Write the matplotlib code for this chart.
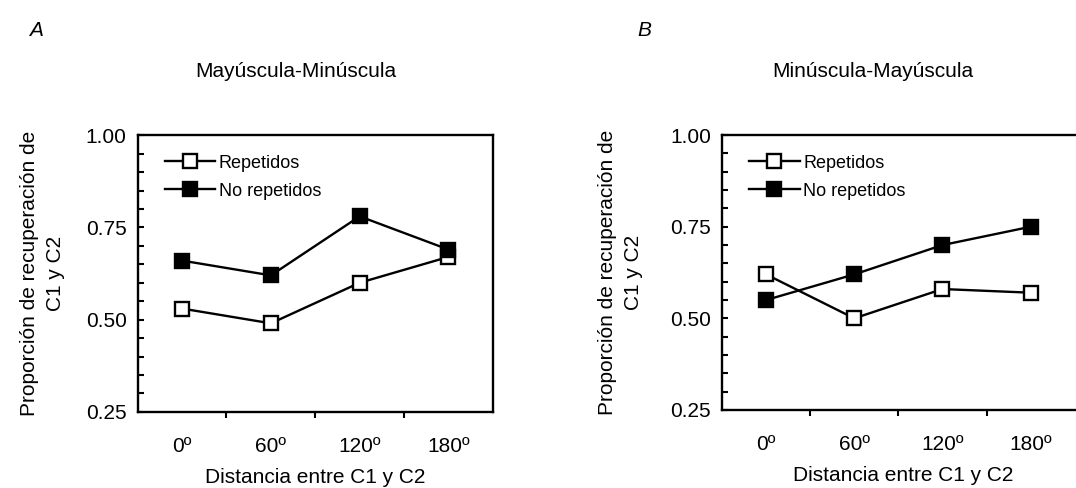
import matplotlib.pyplot as plt
from matplotlib.ticker import MultipleLocator
import numpy as np

plt.rcParams['font.family'] = ['Liberation Sans', 'DejaVu Sans']

# data
distances = ['0º', '60º', '120º', '180º']
rep_a = [0.53, 0.49, 0.60, 0.67]
norep_a = [0.66, 0.62, 0.78, 0.69]
rep_b = [0.62, 0.50, 0.58, 0.57]
norep_b = [0.55, 0.62, 0.70, 0.75]

fig = plt.figure(figsize=(10.76, 4.88), dpi=100)

ax_a = fig.add_axes([0.128, 0.156, 0.330, 0.567])
ax_b = fig.add_axes([0.671, 0.160, 0.336, 0.563])

panels = [
    (ax_a, rep_a, norep_a, 'Mayúscula-Minúscula', 'A', 3.5, -0.305, 0.445, -0.205),
    (ax_b, rep_b, norep_b, 'Minúscula-Mayúscula', 'B', 3.6, -0.235, 0.418, -0.219),
]

x = np.arange(len(distances))

for ax, rep, norep, title, letter, xmax, letter_x, title_x, ylab_x in panels:
    ax.plot(x, rep, color='black', lw=1.7, marker='s', ms=10,
            mfc='white', mec='black', mew=1.7, label='Repetidos')
    ax.plot(x, norep, color='black', lw=1.7, marker='s', ms=10,
            mfc='black', mec='black', mew=1.7, label='No repetidos')

    ax.set_xlim(-0.5, xmax)
    ax.set_ylim(0.25, 1.0)

    # category labels without tick marks, ticks between categories
    ax.set_xticks([0.5, 1.5, 2.5])
    ax.set_xticklabels([])
    ax.tick_params(axis='x', which='major', direction='out', length=4, width=1.5)
    for xi, lab in zip(x, distances):
        ax.text(xi, -0.09, lab, transform=ax.get_xaxis_transform(),
                ha='center', va='top', fontsize=15)

    ax.set_yticks([0.25, 0.50, 0.75, 1.00])
    ax.set_yticklabels(['0.25', '0.50', '0.75', '1.00'], fontsize=15)
    ax.yaxis.set_minor_locator(MultipleLocator(0.05))
    ax.tick_params(axis='y', which='both', direction='in', length=4, width=1.5, pad=8)

    for s in ax.spines.values():
        s.set_linewidth(1.7)

    ax.set_xlabel('Distancia entre C1 y C2', fontsize=15, labelpad=33)
    ax.set_ylabel('Proporción de recuperación de\nC1 y C2', fontsize=15,
                  linespacing=1.45)
    ax.yaxis.set_label_coords(ylab_x, 0.5)
    ax.set_title(title, fontsize=15, pad=42, x=title_x)

    ax.legend(loc='upper left', bbox_to_anchor=(0.04, 0.975), frameon=False,
              fontsize=13, handlelength=2.8, handletextpad=0.2,
              borderaxespad=0.3, labelspacing=0.6)

    ax.text(letter_x, 1.38, letter, transform=ax.transAxes, fontsize=15,
            style='italic', ha='left', va='center')

fig.savefig('out.png', dpi=100)
